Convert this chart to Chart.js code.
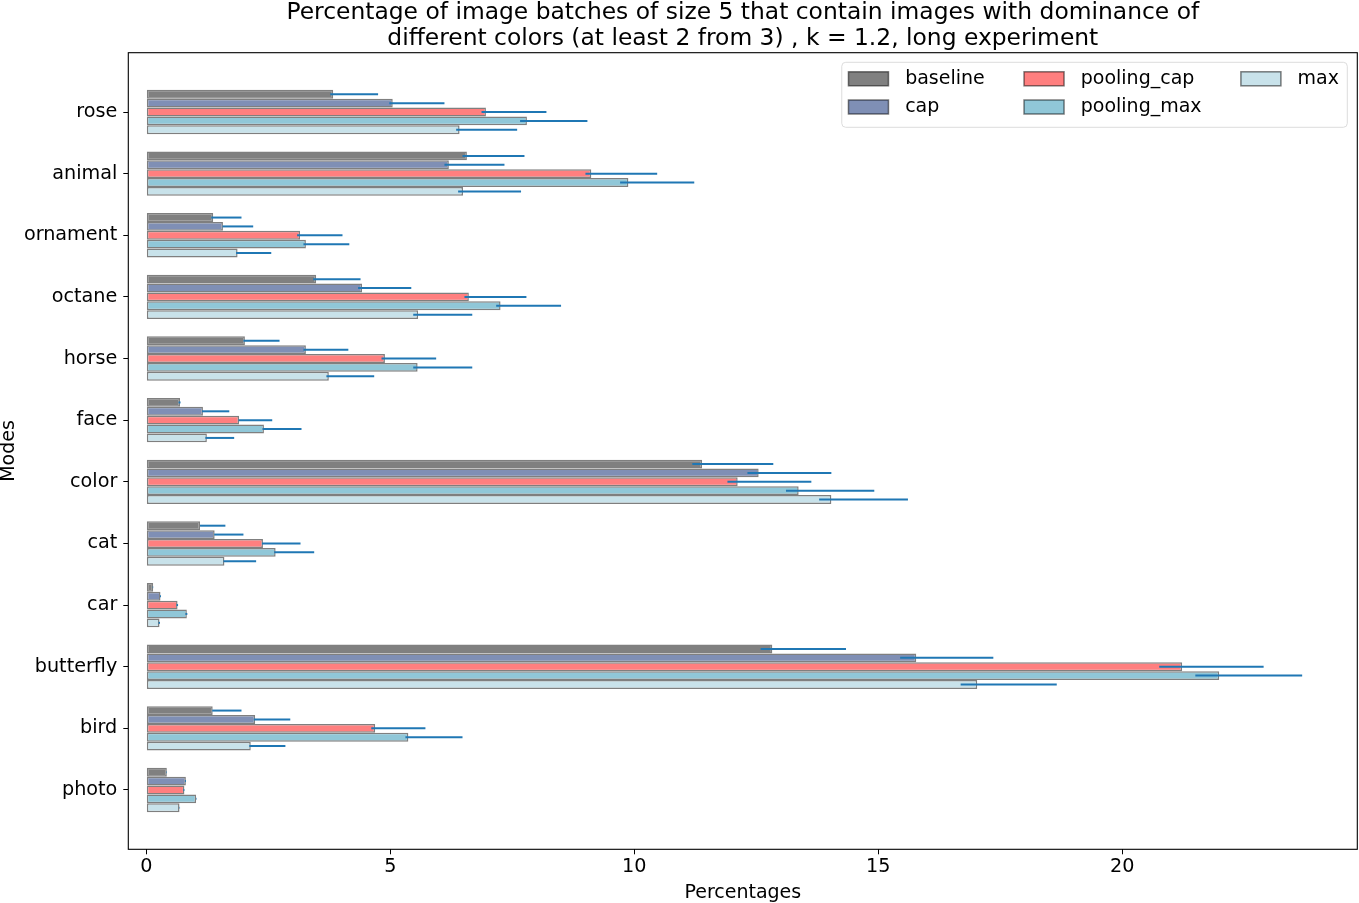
<!DOCTYPE html>
<html>
<head>
<meta charset="utf-8">
<script src="https://cdn.jsdelivr.net/npm/chart.js@4.4.1/dist/chart.umd.min.js"></script>
<style>
  html, body { margin: 0; padding: 0; background: #fff; }
  #wrap { width: 1359px; height: 903px; position: relative; }
</style>
</head>
<body>
<div id="wrap"><canvas id="c"></canvas></div>
<script>
// ---------- DATA ----------
const categories = ['rose', 'animal', 'ornament', 'octane', 'horse', 'face', 'color', 'cat', 'car', 'butterfly', 'bird', 'photo'];
const seriesNames = ['baseline', 'cap', 'pooling_cap', 'pooling_max', 'max'];

const baseline          = [3.83, 6.57, 1.37, 3.48, 2.02, 0.69, 11.39, 1.10, 0.14, 12.83, 1.36, 0.42];
const baselineErrLow    = [3.77, 6.48, 1.33, 3.42, 1.99, 0.66, 11.19, 1.10, 0.13, 12.59, 1.35, 0.41];
const baselineErrHigh   = [4.75, 7.75, 1.95, 4.39, 2.73, 0.70, 12.85, 1.62, 0.14, 14.34, 1.95, 0.42];

const cap               = [5.05, 6.20, 1.57, 4.42, 3.27, 1.16, 12.55, 1.40, 0.29, 15.78, 2.23, 0.81];
const capErrLow         = [4.98, 6.11, 1.56, 4.34, 3.22, 1.14, 12.32, 1.39, 0.28, 15.45, 2.20, 0.79];
const capErrHigh        = [6.11, 7.34, 2.19, 5.43, 4.14, 1.70, 14.04, 1.99, 0.30, 17.36, 2.95, 0.81];

const poolingCap        = [6.96, 9.12, 3.15, 6.61, 4.89, 1.90, 12.12, 2.39, 0.64, 21.23, 4.69, 0.78];
const poolingCapErrLow  = [6.87, 9.00, 3.09, 6.52, 4.82, 1.89, 11.91, 2.37, 0.62, 20.76, 4.61, 0.76];
const poolingCapErrHigh = [8.20, 10.47, 4.02, 7.79, 5.94, 2.58, 13.63, 3.16, 0.65, 22.90, 5.72, 0.78];

const poolingMax        = [7.80, 9.88, 3.27, 7.26, 5.56, 2.41, 13.37, 2.65, 0.83, 21.99, 5.37, 1.02];
const poolingMaxErrLow  = [7.66, 9.71, 3.22, 7.17, 5.47, 2.38, 13.11, 2.62, 0.80, 21.50, 5.31, 1.02];
const poolingMaxErrHigh = [9.04, 11.23, 4.16, 8.50, 6.68, 3.18, 14.92, 3.44, 0.84, 23.69, 6.48, 1.02];

const maxSeries         = [6.42, 6.49, 1.87, 5.57, 3.74, 1.24, 14.04, 1.60, 0.27, 17.03, 2.14, 0.68];
const maxErrLow         = [6.35, 6.39, 1.84, 5.47, 3.69, 1.21, 13.79, 1.58, 0.25, 16.69, 2.11, 0.68];
const maxErrHigh        = [7.60, 7.68, 2.56, 6.68, 4.67, 1.80, 15.61, 2.25, 0.28, 18.66, 2.85, 0.68];

const xTickValues = [0, 5, 10, 15, 20];

// ---------- STYLE ----------
const seriesValues = [baseline, cap, poolingCap, poolingMax, maxSeries];
const seriesErrLow = [baselineErrLow, capErrLow, poolingCapErrLow, poolingMaxErrLow, maxErrLow];
const seriesErrHigh = [baselineErrHigh, capErrHigh, poolingCapErrHigh, poolingMaxErrHigh, maxErrHigh];
const seriesColors = ['#808080', '#7f8fb5', '#ff7f7f', '#90c7d8', '#c8e2ea'];
const FONT = 'DejaVu Sans';

const datasets = seriesNames.map((name, s) => ({
  label: name,
  data: categories.map((c, i) => ({ x: seriesValues[s][i], y: i })),
  backgroundColor: seriesColors[s],
  borderColor: 'rgba(0,0,0,0.5)',
  borderWidth: 1.5,
  borderSkipped: false,
  categoryPercentage: 0.72,
  barPercentage: 1.0,
  errLow: seriesErrLow[s],
  errHigh: seriesErrHigh[s]
}));

const errorBarPlugin = {
  id: 'errorBars',
  afterDatasetsDraw(chart) {
    const ctx = chart.ctx;
    const xs = chart.scales.x;
    ctx.save();
    ctx.strokeStyle = '#1f77b4';
    ctx.lineWidth = 2;
    ctx.lineCap = 'butt';
    chart.data.datasets.forEach((ds, di) => {
      const meta = chart.getDatasetMeta(di);
      meta.data.forEach((el, j) => {
        const x1 = xs.getPixelForValue(ds.errLow[j]);
        const x2 = xs.getPixelForValue(ds.errHigh[j]);
        ctx.beginPath();
        ctx.moveTo(x1, el.y);
        ctx.lineTo(Math.max(x2, x1 + 0.5), el.y);
        ctx.stroke();
      });
    });
    ctx.restore();
  }
};

const framePlugin = {
  id: 'frame',
  afterDraw(chart) {
    const a = chart.chartArea;
    const ctx = chart.ctx;
    ctx.save();
    ctx.strokeStyle = '#000';
    ctx.lineWidth = 1.1;
    ctx.strokeRect(a.left, a.top, a.right - a.left, a.bottom - a.top);
    ctx.restore();
  }
};

const legendPlugin = {
  id: 'mplLegend',
  afterDraw(chart) {
    const ctx = chart.ctx;
    const a = chart.chartArea;
    const ds = chart.data.datasets;
    const fontSize = 19;
    ctx.save();
    ctx.font = fontSize + 'px "' + FONT + '"';
    const rows = 2, cols = 3;
    const handle = 40, handlePad = 16.7, colSpace = 39.3, padL = 6.7, padR = 8.3;
    const colW = [];
    for (let c = 0; c < cols; c++) {
      let w = 0;
      for (let r = 0; r < rows; r++) {
        const k = c * rows + r;
        if (k < ds.length) w = Math.max(w, ctx.measureText(ds[k].label).width);
      }
      colW.push(w);
    }
    let width = padL + padR;
    colW.forEach((w, c) => { width += handle + handlePad + w + (c < cols - 1 ? colSpace : 0); });
    const height = 65;
    const right = a.right - 10;
    const left = right - width;
    const top = a.top + 9.6;
    const r = 4;
    ctx.beginPath();
    ctx.moveTo(left + r, top);
    ctx.lineTo(left + width - r, top);
    ctx.quadraticCurveTo(left + width, top, left + width, top + r);
    ctx.lineTo(left + width, top + height - r);
    ctx.quadraticCurveTo(left + width, top + height, left + width - r, top + height);
    ctx.lineTo(left + r, top + height);
    ctx.quadraticCurveTo(left, top + height, left, top + height - r);
    ctx.lineTo(left, top + r);
    ctx.quadraticCurveTo(left, top, left + r, top);
    ctx.closePath();
    ctx.fillStyle = 'rgba(255,255,255,0.8)';
    ctx.fill();
    ctx.strokeStyle = '#dcdcdc';
    ctx.lineWidth = 1;
    ctx.stroke();
    let cx = left + padL;
    for (let c = 0; c < cols; c++) {
      for (let rr = 0; rr < rows; rr++) {
        const k = c * rows + rr;
        if (k >= ds.length) continue;
        const cy = top + 16.5 + rr * 28.2;
        ctx.fillStyle = ds[k].backgroundColor;
        ctx.fillRect(cx, cy - 7, handle, 14);
        ctx.strokeStyle = 'rgba(0,0,0,0.5)';
        ctx.lineWidth = 1.5;
        ctx.strokeRect(cx, cy - 7, handle, 14);
        ctx.fillStyle = '#000';
        ctx.textBaseline = 'middle';
        ctx.textAlign = 'left';
        ctx.fillText(ds[k].label, cx + handle + handlePad, cy);
      }
      cx += handle + handlePad + colW[c] + colSpace;
    }
    ctx.restore();
  }
};

new Chart(document.getElementById('c'), {
  type: 'bar',
  data: { datasets },
  options: {
    indexAxis: 'y',
    responsive: true,
    maintainAspectRatio: false,
    animation: false,
    layout: { padding: { left: 0, right: 1.7, top: 0, bottom: 0 } },
    plugins: {
      legend: { display: false },
      tooltip: { enabled: false },
      title: {
        display: true,
        fullSize: false,
        text: ['Percentage of image batches of size 5 that contain images with dominance of',
               'different colors (at least 2 from 3) , k = 1.2, long experiment'],
        color: '#000',
        font: { family: FONT, size: 23.4, weight: 'normal', lineHeight: 1.111 },
        padding: { top: 0, bottom: 0.7 }
      }
    },
    scales: {
      x: {
        type: 'linear',
        min: -0.37,
        max: 24.82,
        afterBuildTicks(scale) { scale.ticks = xTickValues.map(v => ({ value: v })); },
        afterFit(scale) { scale.height = 53.7; },
        ticks: { color: '#000', font: { family: FONT, size: 19.2 }, padding: 1, maxRotation: 0 },
        grid: { drawOnChartArea: false, drawTicks: true, tickLength: 5, color: '#000', lineWidth: 1, offset: false },
        border: { display: false },
        title: { display: true, text: 'Percentages', color: '#000', font: { family: FONT, size: 19, lineHeight: 1.0 }, padding: 0 }
      },
      y: {
        type: 'linear',
        reverse: true,
        offset: false,
        min: -0.963,
        max: 11.963,
        afterBuildTicks(scale) { scale.ticks = categories.map((c, i) => ({ value: i })); },
        afterFit(scale) { scale.width = 128.3; },
        ticks: { color: '#000', font: { family: FONT, size: 19.2 }, padding: 6, callback: (v) => categories[v] },
        grid: { drawOnChartArea: false, drawTicks: true, tickLength: 5, color: '#000', lineWidth: 1, offset: false },
        border: { display: false },
        title: { display: true, text: 'Modes', color: '#000', font: { family: FONT, size: 19, lineHeight: 1 }, padding: 0 }
      }
    }
  },
  plugins: [errorBarPlugin, framePlugin, legendPlugin]
});
</script>
</body>
</html>
